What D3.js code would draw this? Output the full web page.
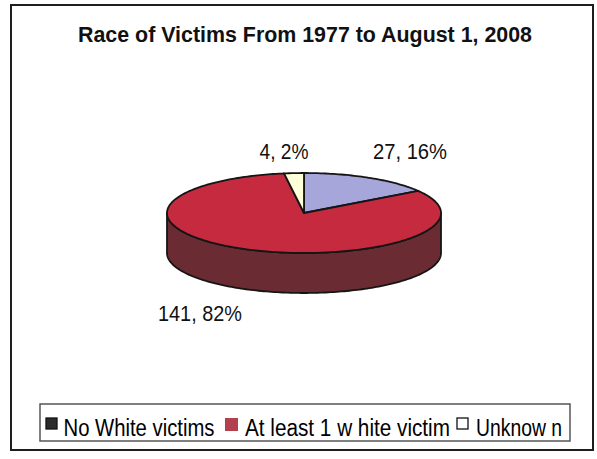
<!DOCTYPE html>
<html><head><meta charset="utf-8">
<script src="https://cdn.jsdelivr.net/npm/d3@7"></script>
<style>body{margin:0;background:#fff}svg{display:block}</style>
</head><body>
<script>
const title = "Race of Victims From 1977 to August 1, 2008";
const categories = ["No White victims", "At least 1 w hite victim", "Unknow n"];
const values = [27, 141, 4];
const percents = ["16%", "82%", "2%"];
const topColors = ["#a6a6da", "#c62a3f", "#ffffd9"];
const sideColors = ["#5f5f8a", "#6a2b33", "#bdbd9a"];
const legendColors = ["#2b2b2b", "#b3404f", "#ffffff"];

const W = 597, H = 459;
const svg = d3.select("body").append("svg").attr("width", W).attr("height", H);

// outer frame
svg.append("rect").attr("x", 11).attr("y", 5).attr("width", 582).attr("height", 445)
  .attr("fill", "#fff").attr("stroke", "#1e1e1e").attr("stroke-width", 2);

svg.append("text").attr("x", 305).attr("y", 42).attr("text-anchor", "middle")
  .attr("font-family", "Liberation Sans, Arial, sans-serif").attr("font-weight", "bold")
  .attr("font-size", 22).attr("fill", "#111")
  .attr("textLength", 454).attr("lengthAdjust", "spacingAndGlyphs").text(title);

const cx = 304, cy = 213, rx = 137, ry = 40, depth = 40;
const pie = d3.pie().sort(null).startAngle(0).endAngle(2 * Math.PI);
const arcs = pie(values);
const px = a => cx + rx * Math.sin(a);
const py = a => cy - ry * Math.cos(a);

function ellArc(a0, a1, dy) {
  const n = Math.max(2, Math.ceil((a1 - a0) / 0.02));
  const pts = d3.range(n + 1).map(i => a0 + (a1 - a0) * i / n);
  return pts.map(a => [px(a), py(a) + dy]);
}
const line = d3.line();

const g = svg.append("g");
arcs.forEach((d, i) => {
  const s = Math.max(d.startAngle, Math.PI / 2), e = Math.min(d.endAngle, 3 * Math.PI / 2);
  if (e <= s) return;
  const top = ellArc(s, e, 0);
  const bot = ellArc(s, e, depth).reverse();
  g.append("path").attr("d", line(top.concat(bot)) + "Z")
    .attr("fill", sideColors[i]).attr("stroke", "#151515").attr("stroke-width", 1.8)
    .attr("stroke-linejoin", "round");
});
arcs.forEach((d, i) => {
  const pts = [[cx, cy]].concat(ellArc(d.startAngle, d.endAngle, 0));
  g.append("path").attr("d", line(pts) + "Z")
    .attr("fill", topColors[i]).attr("stroke", "#151515").attr("stroke-width", 1.8)
    .attr("stroke-linejoin", "round");
});

const labelPos = [[410, 159, 74], [200, 321, 84], [284, 159, 49]];
arcs.forEach((d, i) => {
  svg.append("text").attr("x", labelPos[i][0]).attr("y", labelPos[i][1])
    .attr("text-anchor", "middle").attr("font-family", "Liberation Sans, Arial, sans-serif")
    .attr("font-size", 22).attr("fill", "#111")
    .attr("textLength", labelPos[i][2]).attr("lengthAdjust", "spacingAndGlyphs")
    .text(values[i] + ", " + percents[i]);
});

svg.append("rect").attr("x", 40).attr("y", 404).attr("width", 530).attr("height", 37)
  .attr("fill", "#fff").attr("stroke", "#555").attr("stroke-width", 1.5);
const legItems = [
  {sx: 46, tx: 63.5, tw: 151},
  {sx: 225, tx: 245, tw: 205},
  {sx: 457, tx: 476, tw: 86}
];
categories.forEach((c, i) => {
  const it = legItems[i];
  svg.append("rect").attr("x", it.sx).attr("y", 418).attr("width", i === 1 ? 13 : 11).attr("height", i === 1 ? 13 : 11)
    .attr("fill", legendColors[i]).attr("stroke", i === 1 ? "none" : "#111").attr("stroke-width", 1.3);
  svg.append("text").attr("x", it.tx).attr("y", 436)
    .attr("font-family", "Liberation Sans, Arial, sans-serif").attr("font-size", 23).attr("fill", "#000")
    .attr("textLength", it.tw).attr("lengthAdjust", "spacingAndGlyphs").text(c);
});
</script>
</body></html>
